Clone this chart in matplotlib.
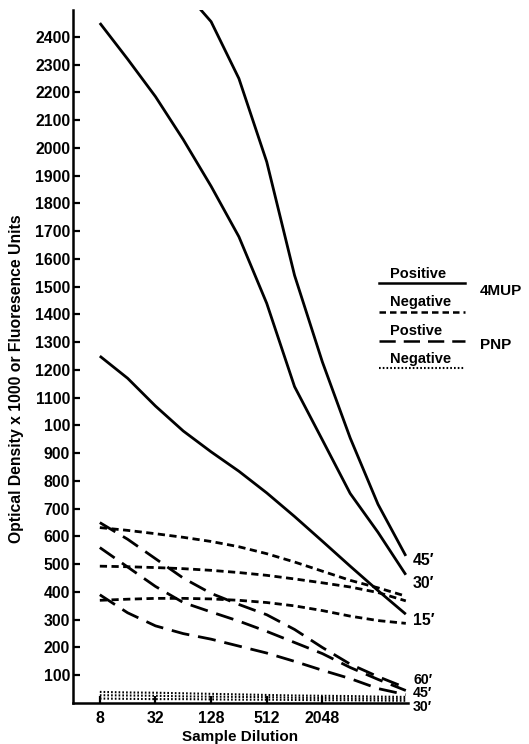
import numpy as np
import matplotlib
matplotlib.use('Agg')
from matplotlib import pyplot as plt
from matplotlib.lines import Line2D
from matplotlib.ticker import NullLocator

plt.rcParams['font.family'] = ['Liberation Sans', 'DejaVu Sans']
plt.rcParams['font.weight'] = 'bold'

dilution = [8, 16, 32, 64, 128, 256, 512, 1024, 2048, 4096, 8192, 16384]

# 4MUP positive (solid)
mup_pos_15 = [1250, 1170, 1070, 980, 905, 835, 757, 672, 583, 493, 405, 320]
mup_pos_30 = [2450, 2320, 2185, 2030, 1862, 1680, 1440, 1140, 948, 755, 615, 462]
mup_pos_45 = [np.nan, np.nan, np.nan, 2570, 2455, 2250, 1950, 1541, 1229, 955, 716, 530]

# 4MUP negative (short dash)
mup_neg_a = [632, 622, 610, 597, 582, 563, 538, 508, 475, 442, 415, 385]
mup_neg_b = [493, 491, 488, 484, 478, 470, 460, 447, 433, 418, 398, 368]
mup_neg_c = [370, 374, 377, 377, 375, 370, 362, 350, 333, 313, 297, 287]

# PNP positive (long dash)
pnp_pos_60 = [650, 590, 520, 450, 395, 355, 318, 265, 200, 140, 95, 55]
pnp_pos_45 = [560, 490, 420, 362, 328, 295, 258, 218, 178, 128, 85, 45]
pnp_pos_30 = [390, 325, 278, 250, 230, 205, 180, 150, 118, 88, 52, 30]

# PNP negative (dotted)
pnp_neg_a = [40, 38, 37, 35, 33, 31, 29, 27, 26, 25, 23, 22]
pnp_neg_b = [28, 27, 26, 24, 23, 22, 21, 19, 18, 17, 16, 15]
pnp_neg_c = [16, 15, 14, 14, 13, 12, 12, 11, 10, 10, 9, 8]

xticks = [8, 32, 128, 512, 2048]
yticks = list(range(100, 2500, 100))
ytick_labels = [str(v) for v in yticks]
ytick_labels[9] = '100'   # as printed in the original figure

end_labels = [("45\u2032", 515, 11.4), ("30\u2032", 432, 11.4), ("15\u2032", 299, 11.4),
              ("60\u2032", 84, 10.2), ("45\u2032", 36, 10.2), ("30\u2032", -14, 10.2)]

W, H = 529, 744
fig = plt.figure(figsize=(W / 100, H / 100), dpi=100)
ax = fig.add_axes([73 / W, 1 - 703 / H, (408 - 73) / W, (703 - 10) / H])

lw = 2.0
for s in [mup_pos_15, mup_pos_30, mup_pos_45]:
    ax.plot(dilution, s, color='black', lw=lw, solid_capstyle='butt')
for s in [mup_neg_a, mup_neg_b, mup_neg_c]:
    ax.plot(dilution, s, color='black', lw=lw, dashes=(2.6, 1.6))
for s in [pnp_pos_60, pnp_pos_45, pnp_pos_30]:
    ax.plot(dilution, s, color='black', lw=lw, dashes=(6.5, 3.2))
for s in [pnp_neg_a, pnp_neg_b, pnp_neg_c]:
    ax.plot(dilution, s, color='black', lw=1.5, dashes=(0.8, 1.0))

ax.set_xscale('log', base=2)
ax.set_xlim(4.1, 17300)
ax.set_ylim(0, 2497)
ax.xaxis.set_minor_locator(NullLocator())
ax.set_xticks(xticks)
ax.set_xticklabels([str(v) for v in xticks])
ax.set_yticks(yticks)
ax.set_yticklabels(ytick_labels)
ax.tick_params(direction='in', length=5, width=1.6, labelsize=11.4)
ax.tick_params(axis='y', pad=2)
ax.tick_params(axis='x', pad=6)

for side in ['top', 'right']:
    ax.spines[side].set_visible(False)
for side in ['left', 'bottom']:
    ax.spines[side].set_linewidth(1.8)

for txt, yv, fs in end_labels:
    ax.text(19600, yv, txt, fontsize=fs, fontweight='bold', ha='left', va='center')

ax.set_xlabel('Sample Dilution', fontsize=11, fontweight='bold', labelpad=3)
fig.text(17 / W, 1 - 379 / H, 'Optical Density x 1000 or Fluoresence Units',
         rotation=90, ha='center', va='center', fontsize=11.3, fontweight='bold')

# legend block
leg = [("Positive", 274, 283, None),
       ("Negative", 302, 312, (2.6, 1.6)),
       ("Postive", 331, 341, (6.5, 3.2)),
       ("Negative", 359, 368, (0.8, 1.0))]
for label, ty, ly, dsh in leg:
    fig.text(390 / W, 1 - ty / H, label, fontsize=10.5, fontweight='bold',
             ha='left', va='center')
    ln = Line2D([379 / W, 465 / W], [1 - ly / H, 1 - ly / H], transform=fig.transFigure,
                color='black', lw=1.8 if dsh != (0.8, 1.0) else 1.5)
    if dsh is not None:
        ln.set_dashes(dsh)
    fig.add_artist(ln)
fig.text(480 / W, 1 - 291 / H, '4MUP', fontsize=11, fontweight='bold', ha='left', va='center')
fig.text(480 / W, 1 - 345 / H, 'PNP', fontsize=11, fontweight='bold', ha='left', va='center')

fig.savefig('out.png', dpi=100)
